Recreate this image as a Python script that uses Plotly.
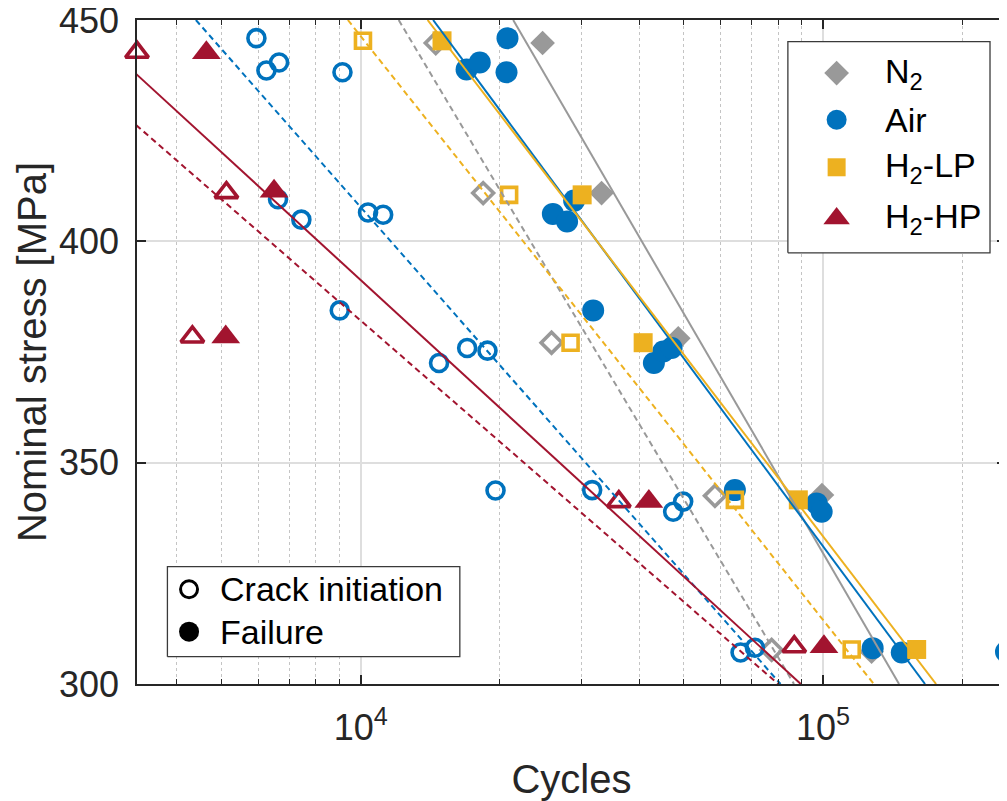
import math
import plotly.graph_objects as go

# ---------------- data ----------------
# N2 (grey diamonds): crack initiation (open) / failure (filled)
n2_crack_N = [14530, 18400, 25870, 58380, 77440]
n2_crack_S = [444.8, 410.9, 377.1, 342.5, 307.7]
n2_fail_N = [24740, 33190, 48630, 99500, 127400]
n2_fail_S = [444.8, 410.9, 378.1, 342.7, 307.3]

# Air (blue circles)
air_crack_N = [5946, 6250, 6657, 9129, 6622, 7438, 10370, 11180, 9006,
               14770, 16990, 18800, 19570, 31670, 47420, 49840, 66340, 71260]
air_crack_S = [445.9, 438.6, 440.4, 438.2, 409.5, 404.9, 406.5, 406.0, 384.4,
               372.5, 375.9, 375.3, 343.7, 343.8, 338.9, 341.2, 307.1, 308.2]
air_fail_N = [16940, 18090, 20770, 20670, 26040, 27950, 28950, 31830, 43070,
              45120, 47040, 64480, 96910, 99360, 128100, 148100, 248900]
air_fail_S = [438.8, 440.4, 445.9, 438.2, 406.2, 404.5, 409.2, 384.4, 372.5,
              375.1, 375.9, 343.8, 340.8, 338.9, 308.1, 307.1, 307.3]

# H2-LP (yellow squares)
lp_crack_N = [10110, 20940, 28440, 64480, 115400]
lp_crack_S = [445.3, 410.5, 377.1, 341.6, 307.8]
lp_fail_N = [14990, 30130, 40830, 88450, 159500]
lp_fail_S = [445.3, 410.5, 377.1, 341.6, 307.8]

# H2-HP (red triangles)
hp_crack_N = [3280, 5121, 4322, 36170, 86680]
hp_crack_S = [442.7, 411.0, 378.4, 341.2, 308.4]
hp_fail_N = [4634, 6492, 5103, 42010, 100500]
hp_fail_S = [442.6, 411.3, 378.4, 341.2, 308.4]

# S-N fit lines: cycles read at the two stress levels below
fit_S = [450, 300]
n2_fail_fit_N = [21370, 146100]
air_fail_fit_N = [14340, 166300]
lp_fail_fit_N = [13950, 175700]
hp_fail_fit_N = [2437, 89530]
n2_crack_fit_N = [12080, 86560]
air_crack_fit_N = [4398, 80940]
lp_crack_fit_N = [9378, 128800]
hp_crack_fit_N = [1790, 80000]

series_names = ["N<sub>2</sub>", "Air", "H<sub>2</sub>-LP", "H<sub>2</sub>-HP"]
type_names = ["Crack initiation", "Failure"]
x_tick_vals = [1e4, 1e5]
x_tick_text = ["10<sup>4</sup>", "10<sup>5</sup>"]
y_tick_vals = [300, 350, 400, 450]

# ---------------- styling ----------------
GREY = "#999999"
BLUE = "#0072BD"
YELLOW = "#EDB120"
RED = "#A2142F"
AX = "#262626"
FONT = "Liberation Sans, Arial, Helvetica, sans-serif"
DASH = "6px,4px"

series = [
    # name, colour, open symbol, filled symbol, open size, filled size, legend size, data..., fits
    (series_names[0], GREY, "diamond-open", "diamond", 16, 19, 19,
     n2_crack_N, n2_crack_S, n2_fail_N, n2_fail_S, n2_crack_fit_N, n2_fail_fit_N),
    (series_names[1], BLUE, "circle-open", "circle", 17, 22, 20,
     air_crack_N, air_crack_S, air_fail_N, air_fail_S, air_crack_fit_N, air_fail_fit_N),
    (series_names[2], YELLOW, "square-open", "square", 15, 19, 18,
     lp_crack_N, lp_crack_S, lp_fail_N, lp_fail_S, lp_crack_fit_N, lp_fail_fit_N),
    (series_names[3], RED, "triangle-up-open", "triangle-up", 20, 25, 23,
     hp_crack_N, hp_crack_S, hp_fail_N, hp_fail_S, hp_crack_fit_N, hp_fail_fit_N),
]

fig = go.Figure()

# data markers
for name, col, osym, fsym, osz, fsz, lsz, cN, cS, fN, fS, cfit, ffit in series:
    fig.add_trace(go.Scatter(
        x=cN, y=cS, mode="markers", name=name + " (crack initiation)", showlegend=False,
        cliponaxis=False,
        marker=dict(symbol=osym, size=osz, color=col, line=dict(color=col, width=3.6))))
    fig.add_trace(go.Scatter(
        x=fN, y=fS, mode="markers", name=name + " (failure)", showlegend=False,
        cliponaxis=False,
        marker=dict(symbol=fsym, size=fsz, color=col, line=dict(width=0))))

# S-N fit lines (drawn above the markers, as in the reference)
for name, col, osym, fsym, osz, fsz, lsz, cN, cS, fN, fS, cfit, ffit in series:
    fig.add_trace(go.Scatter(
        x=ffit, y=fit_S, mode="lines", showlegend=False, hoverinfo="skip",
        line=dict(color=col, width=2)))
    fig.add_trace(go.Scatter(
        x=cfit, y=fit_S, mode="lines", showlegend=False, hoverinfo="skip",
        line=dict(color=col, width=2, dash=DASH)))

# ---------------- legends (MATLAB-style boxes, on an overlay of plot fractions) ----------------
LEG1_BOX = (0.749, 0.6494, 0.9816, 0.9673)
LEG1_MX, LEG1_TX = 0.8051, 0.8584
LEG1_Y = [0.920, 0.8498, 0.7782, 0.7011]
LEG2_BOX = (0.035, 0.0411, 0.3715, 0.1767)
LEG2_MX, LEG2_TX = 0.0599, 0.0932
LEG2_Y = [0.1427, 0.0788]
LEG_FONT = dict(size=34, color="black", family=FONT)

for (x0, y0, x1, y1) in (LEG1_BOX, LEG2_BOX):
    fig.add_trace(go.Scatter(
        x=[x0, x1, x1, x0, x0], y=[y0, y0, y1, y1, y0], xaxis="x2", yaxis="y2",
        mode="lines", fill="toself", fillcolor="white", showlegend=False,
        hoverinfo="skip", line=dict(color="#3a3a3a", width=1.3)))

annotations = []
for i, s in enumerate(series):
    name, col, osym, fsym, osz, fsz, lsz = s[:7]
    fig.add_trace(go.Scatter(
        x=[LEG1_MX], y=[LEG1_Y[i]], xaxis="x2", yaxis="y2", mode="markers",
        showlegend=False, hoverinfo="skip", cliponaxis=False,
        marker=dict(symbol=fsym, size=lsz, color=col, line=dict(width=0))))
    annotations.append(dict(x=LEG1_TX, y=LEG1_Y[i], xref="paper", yref="paper",
                            text=name, showarrow=False, xanchor="left", yanchor="middle",
                            font=LEG_FONT))

leg2_markers = [dict(symbol="circle-open", size=17, color="black",
                     line=dict(color="black", width=3)),
                dict(symbol="circle", size=20, color="black", line=dict(width=0))]
for i, tname in enumerate(type_names):
    fig.add_trace(go.Scatter(
        x=[LEG2_MX], y=[LEG2_Y[i]], xaxis="x2", yaxis="y2", mode="markers",
        showlegend=False, hoverinfo="skip", cliponaxis=False, marker=leg2_markers[i]))
    annotations.append(dict(x=LEG2_TX, y=LEG2_Y[i], xref="paper", yref="paper",
                            text=tname, showarrow=False, xanchor="left", yanchor="middle",
                            font=LEG_FONT))

all_N = (n2_crack_N + n2_fail_N + air_crack_N + air_fail_N +
         lp_crack_N + lp_fail_N + hp_crack_N + hp_fail_N)
x_range = [math.log10(min(all_N)), math.log10(max(all_N))]
minor_vals = [k * 10 ** e for e in (3, 4, 5) for k in range(2, 10)]

fig.update_layout(
    # the page body adds an 8px margin, so the figure is 8px smaller
    width=999, height=793,
    margin=dict(l=129, r=1, t=12, b=117),
    paper_bgcolor="white", plot_bgcolor="white",
    font=dict(family=FONT, color=AX),
    showlegend=False,
    annotations=annotations,
    xaxis=dict(
        type="log", range=x_range, tickvals=x_tick_vals, ticktext=x_tick_text,
        ticks="inside", ticklen=9, tickwidth=1.5, tickcolor=AX,
        showline=True, linecolor=AX, linewidth=1.5, mirror="allticks",
        showgrid=True, gridcolor="#dedede", gridwidth=1.5, zeroline=False,
        tickfont=dict(size=36, color=AX), ticklabelstandoff=11,
        ticklabeloverflow="allow",
        title=dict(text="Cycles", font=dict(size=40, color=AX), standoff=25),
        minor=dict(tickvals=minor_vals, ticks="inside", ticklen=5, tickwidth=1,
                   tickcolor=AX, showgrid=True, gridcolor="#c4c4c4",
                   griddash="dot", gridwidth=1),
        automargin=False,
    ),
    yaxis=dict(
        range=[300, 450], tickvals=y_tick_vals,
        ticks="inside", ticklen=9, tickwidth=1.5, tickcolor=AX,
        showline=True, linecolor=AX, linewidth=1.5, mirror="allticks",
        showgrid=True, gridcolor="#dedede", gridwidth=1.5, zeroline=False,
        tickfont=dict(size=36, color=AX), ticklabelstandoff=9,
        ticklabeloverflow="allow",
        title=dict(text="\u00a0\u00a0Nominal stress [MPa]", font=dict(size=40, color=AX), standoff=0),
        automargin=False,
    ),
    xaxis2=dict(overlaying="x", range=[0, 1], visible=False, anchor="y2", fixedrange=True),
    yaxis2=dict(overlaying="y", range=[0, 1], visible=False, anchor="x2", fixedrange=True),
)

fig.write_html("out.html")
